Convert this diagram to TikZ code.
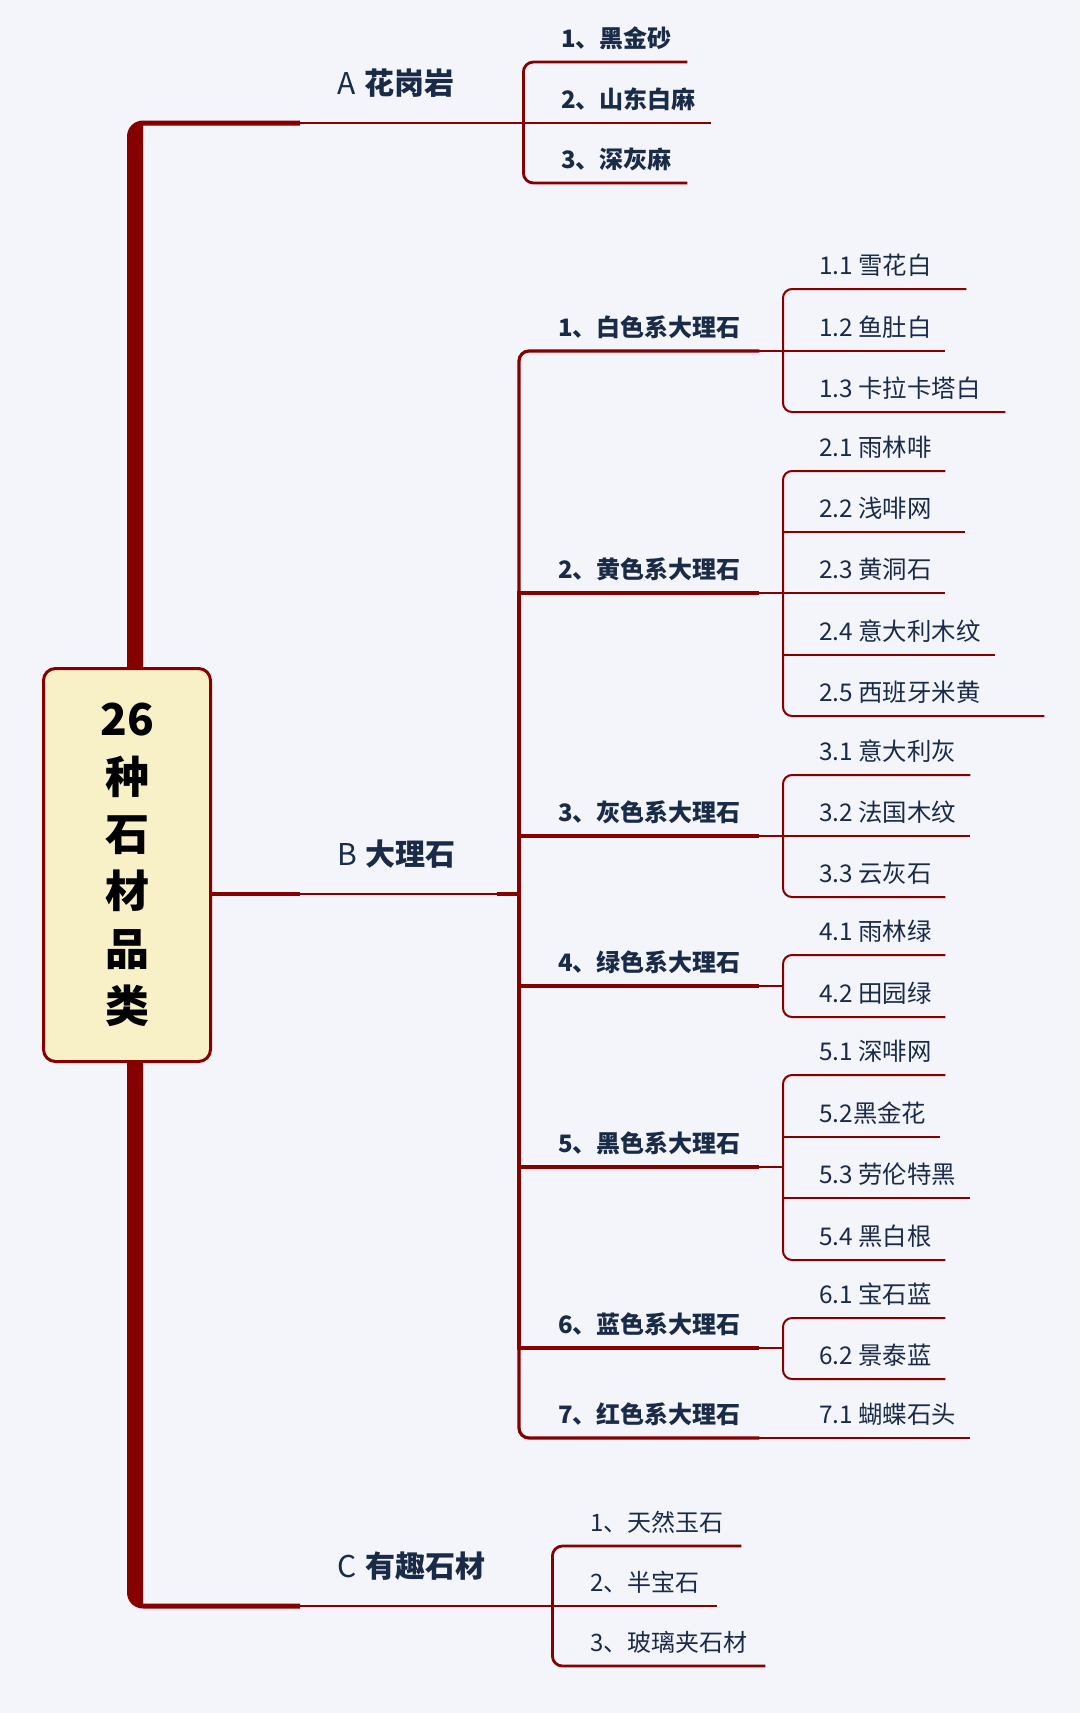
\documentclass[tikz,border=0pt]{standalone}
\usepackage{fontspec}
\setmainfont{Noto Sans CJK SC}
\usetikzlibrary{calc}
\definecolor{wine}{HTML}{870000}
\definecolor{ink}{HTML}{1A2B48}
\definecolor{cream}{HTML}{F8F1C8}
\definecolor{paper}{HTML}{F4F5FA}

\begin{document}
\begin{tikzpicture}[x=1pt, y=-1pt,
    topic/.style 2 args={anchor=south west, inner xsep=0pt, text depth=0pt, text=ink,
      execute at begin node={\hbox to #1pt\bgroup\hskip #2pt},
      execute at end node={\hfil\egroup}},
    branch/.style={topic={#1}{37}, inner ysep=28.6pt, font=\bfseries\fontsize{30}{36}\selectfont},
    kind/.style={topic={#1}{38}, inner ysep=14pt, font=\bfseries\fontsize{24}{28}\selectfont},
    family/.style={topic={#1}{39}, inner ysep=14.5pt, font=\bfseries\fontsize{24}{28}\selectfont},
    leaf/.style={topic={#1}{36}, inner ysep=14pt, font=\fontsize{24.4}{28}\selectfont},
    sprig/.style={topic={#1}{38}, inner ysep=14pt, font=\fontsize{24}{28}\selectfont},
    hub/.style={draw=wine, line width=3pt, fill=cream, rounded corners=12pt,
      minimum width=167pt, minimum height=393pt, align=center, text=black,
      font=\bfseries\fontsize{44}{57.4}\selectfont},
    limb/.style={draw=wine, line width=2.8pt},
    stem/.style={draw=wine, line width=3.2pt},
    twig/.style={draw=wine, line width=2pt}]

        \path[use as bounding box, fill=paper] (0,0) rectangle (1080,1713);

        \node[hub] (hub) at (127,865) {26\\种\\石\\材\\品\\类};

        \node[branch=223] (A) at (300,123) {{\mdseries A}\hspace{9pt}花岗岩};
        \node[branch=197] (B) at (300,894) {{\mdseries B}\hspace{9pt}大理石};
        \node[branch=252] (C) at (300,1606) {{\mdseries C}\hspace{9pt}有趣石材};

        \node[kind=164] (a1) at (523,62) {1、黑金砂};
        \node[kind=188] (a2) at (523,123) {2、山东白麻};
        \node[kind=164] (a3) at (523,183) {3、深灰麻};

        \node[family=240] (g1) at (519,351) {1、白色系大理石};
        \node[family=240] (g2) at (519,593) {2、黄色系大理石};
        \node[family=240] (g3) at (519,836) {3、灰色系大理石};
        \node[family=240] (g4) at (519,986) {4、绿色系大理石};
        \node[family=240] (g5) at (519,1167) {5、黑色系大理石};
        \node[family=240] (g6) at (519,1348) {6、蓝色系大理石};
        \node[family=240] (g7) at (519,1438) {7、红色系大理石};

        \node[leaf=183] (l11) at (783,289) {1.1 雪花白};
        \node[leaf=162] (l12) at (783,351) {1.2 鱼肚白};
        \node[leaf=222] (l13) at (783,412) {1.3 卡拉卡塔白};
        \node[leaf=162] (l21) at (783,471) {2.1 雨林啡};
        \node[leaf=182] (l22) at (783,532) {2.2 浅啡网};
        \node[leaf=162] (l23) at (783,593) {2.3 黄洞石};
        \node[leaf=212] (l24) at (783,655) {2.4 意大利木纹};
        \node[leaf=261] (l25) at (783,716) {2.5 西班牙米黄};
        \node[leaf=187] (l31) at (783,775) {3.1 意大利灰};
        \node[leaf=187] (l32) at (783,836) {3.2 法国木纹};
        \node[leaf=162] (l33) at (783,897) {3.3 云灰石};
        \node[leaf=162] (l41) at (783,955) {4.1 雨林绿};
        \node[leaf=162] (l42) at (783,1017) {4.2 田园绿};
        \node[leaf=162] (l51) at (783,1075) {5.1 深啡网};
        \node[leaf=157] (l52) at (783,1137) {5.2黑金花};
        \node[leaf=187] (l53) at (783,1198) {5.3 劳伦特黑};
        \node[leaf=162] (l54) at (783,1260) {5.4 黑白根};
        \node[leaf=162] (l61) at (783,1318) {6.1 宝石蓝};
        \node[leaf=162] (l62) at (783,1379) {6.2 景泰蓝};
        \node[leaf=187] (l71) at (783,1438) {7.1 蝴蝶石头};

        \node[sprig=189] (c1) at (552,1546) {1、天然玉石};
        \node[sprig=165] (c2) at (552,1606) {2、半宝石};
        \node[sprig=213] (c3) at (552,1666) {3、玻璃夹石材};

        \coordinate (knee) at (135,123);
        \coordinate (heel) at (135,1606);

        \fill[wine] ($(hub.north -| knee)+(-8,0)$) -- ($(knee)+(-8,13.5)$)
          arc[start angle=180, end angle=270, radius=16]
          -- ($(A.south west)+(0,-2.5)$) -- ($(A.south west)+(0,2.5)$)
          -- ($(knee)+(8,2.5)$) -- ($(hub.north -| knee)+(8,0)$) -- cycle;
        \fill[wine] ($(hub.south -| heel)+(-8,0)$) -- ($(heel)+(-8,-13.5)$)
          arc[start angle=180, end angle=90, radius=16]
          -- ($(C.south west)+(0,2.5)$) -- ($(C.south west)+(0,-2.5)$)
          -- ($(heel)+(8,-2.5)$) -- ($(hub.south -| heel)+(8,0)$) -- cycle;
        \draw[wine, line width=4.5pt] (hub.east |- B.south west) -- (B.south west);

        \draw[limb] (A.south west) -- (A.south east);
        \draw[limb] (B.south west) -- (B.south east);
        \draw[limb] (C.south west) -- (C.south east);

        \draw[limb, rounded corners=10pt] (A.south east) |- (a1.south east);
        \draw[limb] (A.south east) -- (a2.south east);
        \draw[limb, rounded corners=10pt] (A.south east) |- (a3.south east);

        \draw[limb, rounded corners=10pt] (C.south east) |- (c1.south east);
        \draw[limb] (C.south east) -- (c2.south east);
        \draw[limb, rounded corners=10pt] (C.south east) |- (c3.south east);

        \coordinate (jB) at (B.south east -| g1.south west);
        \draw[wine, line width=4pt] (B.south east) -- (jB);
        \draw[stem, rounded corners=10pt] (jB) |- (g1.south east);
        \draw[stem] (jB) |- (g2.south east);
        \draw[stem] (jB) |- (g3.south east);
        \draw[stem] (jB) |- (g4.south east);
        \draw[stem] (jB) |- (g5.south east);
        \draw[stem] (jB) |- (g6.south east);
        \draw[stem, rounded corners=10pt] (jB) |- (g7.south east);

        \coordinate (j1) at (g1.south east -| l11.south west);
        \draw[twig] (g1.south east) -- (j1);
        \draw[twig, rounded corners=9pt] (j1) |- (l11.south east);
        \draw[twig] (j1) -- (l12.south east);
        \draw[twig, rounded corners=9pt] (j1) |- (l13.south east);

        \coordinate (j2) at (g2.south east -| l21.south west);
        \draw[twig] (g2.south east) -- (j2);
        \draw[twig, rounded corners=9pt] (j2) |- (l21.south east);
        \draw[twig] (j2) |- (l22.south east);
        \draw[twig] (j2) -- (l23.south east);
        \draw[twig] (j2) |- (l24.south east);
        \draw[twig, rounded corners=9pt] (j2) |- (l25.south east);

        \coordinate (j3) at (g3.south east -| l31.south west);
        \draw[twig] (g3.south east) -- (j3);
        \draw[twig, rounded corners=9pt] (j3) |- (l31.south east);
        \draw[twig] (j3) -- (l32.south east);
        \draw[twig, rounded corners=9pt] (j3) |- (l33.south east);

        \coordinate (j4) at (g4.south east -| l41.south west);
        \draw[twig] (g4.south east) -- (j4);
        \draw[twig, rounded corners=9pt] (j4) |- (l41.south east);
        \draw[twig, rounded corners=9pt] (j4) |- (l42.south east);

        \coordinate (j5) at (g5.south east -| l51.south west);
        \draw[twig] (g5.south east) -- (j5);
        \draw[twig, rounded corners=9pt] (j5) |- (l51.south east);
        \draw[twig] (j5) |- (l52.south east);
        \draw[twig] (j5) |- (l53.south east);
        \draw[twig, rounded corners=9pt] (j5) |- (l54.south east);

        \coordinate (j6) at (g6.south east -| l61.south west);
        \draw[twig] (g6.south east) -- (j6);
        \draw[twig, rounded corners=9pt] (j6) |- (l61.south east);
        \draw[twig, rounded corners=9pt] (j6) |- (l62.south east);

        \draw[twig] (g7.south east) -- (l71.south east);

      \end{tikzpicture}
\end{document}
